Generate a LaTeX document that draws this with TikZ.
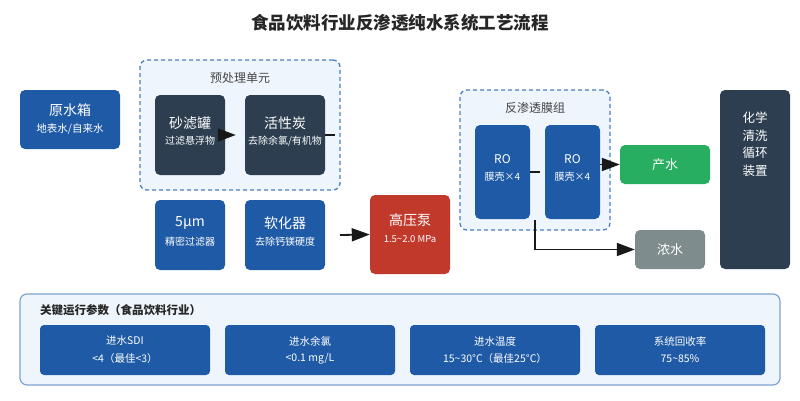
\documentclass[tikz,border=0pt]{standalone}
\usepackage{fontspec}
\setmainfont{Noto Sans CJK SC}
\usetikzlibrary{arrows.meta}
\definecolor{blu}{HTML}{1F5AA6}
\definecolor{dark}{HTML}{2C3E50}
\definecolor{redd}{HTML}{C0392B}
\definecolor{grn}{HTML}{27AE60}
\definecolor{gry}{HTML}{7F8C8D}
\definecolor{cfill}{HTML}{EEF5FD}
\definecolor{cline}{HTML}{4A7FC1}
\definecolor{pline}{HTML}{7FA3D3}
\definecolor{txtg}{HTML}{444444}
\newcommand\fsz[1]{\fontsize{#1}{#1}\selectfont}
\tikzset{
  blk/.style={rectangle, rounded corners=5pt, draw=none, inner sep=0pt},
  grp/.style={rectangle, rounded corners=7pt, draw=cline, fill=cfill, dashed, dash pattern=on 4pt off 3pt, line width=1.3pt, inner sep=0pt},
  ttl/.style={text=white, font=\fsz{14}, inner sep=0pt},
  sub/.style={text=white, font=\fsz{10}, inner sep=0pt},
  glbl/.style={text=txtg, font=\fsz{12}, inner sep=0pt},
  ln/.style={line width=1.8pt, draw=black!90},
  arr/.style={ln, -{Triangle[length=18pt,width=13pt]}},
}
\begin{document}
\begin{tikzpicture}[x=1pt,y=-1pt]
\useasboundingbox (0,0) rectangle (800,400);
\fill[white] (0,0) rectangle (800,400);
% title
\node[font=\fsz{17.5}\bfseries, text=black!85, inner sep=0pt] (title) at (400,23) {食品饮料行业反渗透纯水系统工艺流程};
% raw water tank
\node[blk, fill=blu, minimum width=100pt, minimum height=59pt] (tank) at (70,119.5) {};
\node[ttl] (tankt) at (70,110) {原水箱};
\node[sub, font=\fsz{10.5}] (tanks) at (70,129) {地表水/自来水};
% pretreatment group
\node[grp, minimum width=200pt, minimum height=130pt] (pre) at (240,125) {};
\node[glbl] (prel) at (240,78) {预处理单元};
\node[blk, fill=dark, minimum width=70pt, minimum height=80pt] (sand) at (190,135) {};
\node[ttl] (sandt) at (190,123) {砂滤罐};
\node[sub] (sands) at (190,141) {过滤悬浮物};
\node[blk, fill=dark, minimum width=80pt, minimum height=80pt] (carbon) at (285,135) {};
\node[ttl] (carbont) at (285,123) {活性炭};
\node[sub] (carbons) at (285,141) {去除余氯/有机物};
% fine filter and softener
\node[blk, fill=blu, minimum width=70pt, minimum height=70pt] (fine) at (190,235) {};
\node[ttl] (finet) at (190,223) {5µm};
\node[sub] (fines) at (190,242) {精密过滤器};
\node[blk, fill=blu, minimum width=80pt, minimum height=70pt] (soft) at (285,235) {};
\node[ttl] (softt) at (285,223) {软化器};
\node[sub] (softs) at (285,242) {去除钙镁硬度};
% pump
\node[blk, fill=redd, minimum width=80pt, minimum height=79pt] (pump) at (410,234.5) {};
\node[ttl] (pumpt) at (410,220) {高压泵};
\node[sub, font=\fsz{9.5}] (pumps) at (410,239) {1.5\textasciitilde2.0 MPa};
% RO group
\node[grp, minimum width=150pt, minimum height=140pt] (rog) at (535,160) {};
\node[glbl] (rogl) at (535,108) {反渗透膜组};
\node[blk, fill=blu, minimum width=55pt, minimum height=94pt] (ro1) at (502.5,172) {};
\node[ttl, font=\fsz{12}] (ro1t) at (502.5,159) {RO};
\node[sub] (ro1s) at (502.5,177) {膜壳×4};
\node[blk, fill=blu, minimum width=55pt, minimum height=94pt] (ro2) at (572.5,172) {};
\node[ttl, font=\fsz{12}] (ro2t) at (572.5,159) {RO};
\node[sub] (ro2s) at (572.5,177) {膜壳×4};
% outputs
\node[blk, fill=grn, minimum width=90pt, minimum height=39pt] (prod) at (665,164.5) {};
\node[ttl, font=\fsz{13}] (prodt) at (665,164.5) {产水};
\node[blk, fill=gry, minimum width=70pt, minimum height=39pt] (rej) at (670,249.5) {};
\node[ttl, font=\fsz{13}] (rejt) at (670,249.5) {浓水};
% cleaning
\node[blk, fill=dark, minimum width=70pt, minimum height=179pt] (clean) at (755,179.5) {};
\node[ttl, font=\fsz{12.5}, align=center] (cleant) at (755,144) {化学\\[5pt]清洗\\[5pt]循环\\[5pt]装置};
% connectors
\coordinate (cstub) at (335,135);
\coordinate (pin) at (340,235);
\coordinate (rstub) at (540,172);
\coordinate (cstart) at (535,220);
\draw[arr, shorten >=9pt] (sand.east) -- (carbon.west);
\draw[ln] (carbon.east) -- (cstub);
\draw[arr] (pin) -- (pump.west);
\draw[ln] (ro1.east) -- (rstub);
\draw[arr] (ro2.east |- prod.west) -- (prod.west);
\draw[arr] (cstart) |- (rej.west);
% parameter panel
\node[rectangle, rounded corners=7pt, draw=pline, fill=cfill, line width=1.2pt, minimum width=760pt, minimum height=91pt, inner sep=0pt] (panel) at (400,339.5) {};
\node[anchor=west, font=\fsz{11.5}\bfseries, text=black!85, inner sep=0pt] (panelt) at (40,310) {关键运行参数（食品饮料行业）};
\node[blk, rounded corners=4pt, fill=blu, minimum width=170pt, minimum height=50pt] (p1) at (125,350) {};
\node[sub, font=\fsz{10.5}] (p1a) at (125,341) {进水SDI};
\node[sub, font=\fsz{10.5}] (p1b) at (125,359) {<4（最佳<3）};
\node[blk, rounded corners=4pt, fill=blu, minimum width=170pt, minimum height=50pt] (p2) at (310,350) {};
\node[sub, font=\fsz{10.5}] (p2a) at (310,341) {进水余氯};
\node[sub, font=\fsz{10.5}] (p2b) at (310,359) {<0.1 mg/L};
\node[blk, rounded corners=4pt, fill=blu, minimum width=170pt, minimum height=50pt] (p3) at (495,350) {};
\node[sub, font=\fsz{10.5}] (p3a) at (495,341) {进水温度};
\node[sub, font=\fsz{10.5}] (p3b) at (495,359) {15\textasciitilde30°C（最佳25°C）};
\node[blk, rounded corners=4pt, fill=blu, minimum width=170pt, minimum height=50pt] (p4) at (680,350) {};
\node[sub, font=\fsz{10.5}] (p4a) at (680,341) {系统回收率};
\node[sub, font=\fsz{10.5}] (p4b) at (680,359) {75\textasciitilde85\%};
\end{tikzpicture}
\end{document}
